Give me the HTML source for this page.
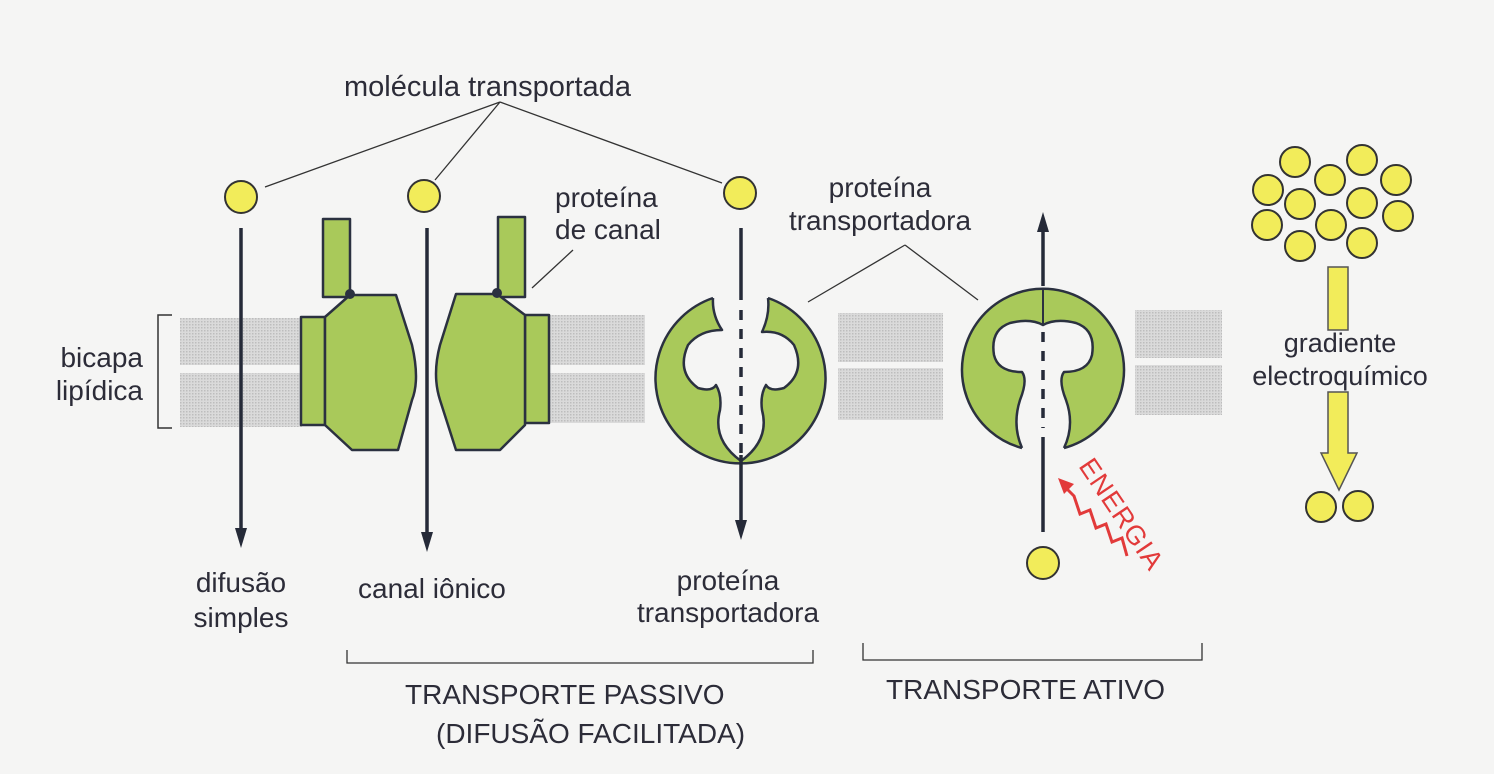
<!DOCTYPE html>
<html><head><meta charset="utf-8"><style>
html,body{margin:0;padding:0;background:#f5f5f4;}
svg{display:block;}
text{font-family:"Liberation Sans","DejaVu Sans",sans-serif;fill:#2c2c38;}
</style></head><body>
<svg width="1494" height="774" viewBox="0 0 1494 774" xmlns="http://www.w3.org/2000/svg">
<defs>
<pattern id="dots" width="3" height="3" patternUnits="userSpaceOnUse"><rect width="3" height="3" fill="#dadada"/><rect width="1.5" height="1.5" fill="#bdbdbd"/></pattern>
</defs>
<rect width="1494" height="774" fill="#f5f5f4"/>
<g fill="url(#dots)">
<rect x="180" y="318" width="122" height="47"/><rect x="180" y="373" width="122" height="54"/>
<rect x="549" y="315" width="96" height="50"/><rect x="549" y="373" width="96" height="50"/>
<rect x="838" y="313" width="105" height="49"/><rect x="838" y="368" width="105" height="52"/>
<rect x="1135" y="310" width="87" height="48"/><rect x="1135" y="365" width="87" height="50"/>
</g>
<path d="M172 315 H158 V428 H172" fill="none" stroke="#333" stroke-width="1.5"/>
<g stroke="#2b3140" stroke-width="2.5" fill="#a9c95a" stroke-linejoin="round">
<rect x="323" y="219" width="27" height="78"/>
<rect x="301" y="317" width="24" height="108"/>
<path d="M325 317 L350 295 L396 295 L412 345 Q420 380 412 400 L398 450 L352 450 L325 425 Z"/>
<rect x="498" y="217" width="27" height="80"/>
<rect x="525" y="315" width="24" height="108"/>
<path d="M525 315 L497 294 L456 294 L440 345 Q432 375 440 400 L456 450 L500 450 L525 425 Z"/>
</g>
<g fill="#2b3140"><circle cx="350" cy="294" r="5"/><circle cx="497" cy="293" r="5"/></g>
<!-- passive transporter -->
<circle cx="741" cy="378" r="85" fill="#a9c95a"/>
<path d="M713 298 Q712 315 722 330 Q700 330 688 345 Q676 372 698 388 Q712 392 716 385 Q722 395 720 410 Q712 440 741 461 Q770 440 762 410 Q760 395 766 385 Q770 392 784 388 Q806 372 794 345 Q782 330 762 332 Q770 315 768 298 L768 285 L713 285 Z" fill="#f5f5f4"/>
<path d="M768 298 A85 85 0 1 1 713 298" fill="none" stroke="#2b3140" stroke-width="2.5"/>
<path d="M713 298 Q712 315 722 330 Q700 330 688 345 Q676 372 698 388 Q712 392 716 385 Q722 395 720 410 Q712 440 741 461 Q770 440 762 410 Q760 395 766 385 Q770 392 784 388 Q806 372 794 345 Q782 330 762 332 Q770 315 768 298" fill="none" stroke="#2b3140" stroke-width="2.5" stroke-linejoin="round"/>
<!-- active transporter -->
<circle cx="1043" cy="370" r="81" fill="#a9c95a"/>
<path d="M1022 448 Q1012 425 1020 400 Q1028 380 1022 372 Q998 372 994 355 Q990 330 1010 323 Q1030 318 1043 325 Q1056 318 1076 323 Q1096 330 1092 355 Q1088 372 1064 372 Q1058 380 1066 400 Q1075 425 1064 448 L1064 460 L1022 460 Z" fill="#f5f5f4"/>
<path d="M1064 448 A81 81 0 1 0 1022 448" fill="none" stroke="#2b3140" stroke-width="2.5"/>
<path d="M1022 448 Q1012 425 1020 400 Q1028 380 1022 372 Q998 372 994 355 Q990 330 1010 323 Q1030 318 1043 325 Q1056 318 1076 323 Q1096 330 1092 355 Q1088 372 1064 372 Q1058 380 1066 400 Q1075 425 1064 448" fill="none" stroke="#2b3140" stroke-width="2.5" stroke-linejoin="round"/>
<path d="M1043 290 V325" stroke="#2b3140" stroke-width="2"/>
<g stroke="#252a38" stroke-width="3.5" fill="none">
<line x1="241" y1="228" x2="241" y2="530"/>
<line x1="427" y1="228" x2="427" y2="535"/>
<line x1="741" y1="228" x2="741" y2="300"/>
<line x1="741" y1="310" x2="741" y2="455" stroke-dasharray="10,9"/>
<line x1="741" y1="455" x2="741" y2="522"/>
<line x1="1043" y1="228" x2="1043" y2="286"/>
<line x1="1043" y1="332" x2="1043" y2="428" stroke-dasharray="10,9"/>
<line x1="1043" y1="437" x2="1043" y2="532"/>
</g>
<g fill="#252a38">
<path d="M235 528 L247 528 L241 548 Z"/>
<path d="M421 532 L433 532 L427 552 Z"/>
<path d="M735 520 L747 520 L741 540 Z"/>
<path d="M1037 232 L1049 232 L1043 212 Z"/>
</g>
<g fill="#f2ec5a" stroke="#333" stroke-width="2">
<circle cx="241" cy="197" r="16"/><circle cx="424" cy="196" r="16"/><circle cx="740" cy="193" r="16"/><circle cx="1043" cy="563" r="16"/>
<circle cx="1295" cy="162" r="15"/><circle cx="1362" cy="160" r="15"/><circle cx="1268" cy="190" r="15"/><circle cx="1330" cy="180" r="15"/><circle cx="1396" cy="180" r="15"/><circle cx="1300" cy="204" r="15"/><circle cx="1362" cy="203" r="15"/><circle cx="1267" cy="225" r="15"/><circle cx="1331" cy="225" r="15"/><circle cx="1398" cy="216" r="15"/><circle cx="1300" cy="246" r="15"/><circle cx="1362" cy="243" r="15"/>
<circle cx="1321" cy="507" r="15"/><circle cx="1358" cy="506" r="15"/>
</g>
<g fill="#f2ec5a" stroke="#555" stroke-width="1.5">
<rect x="1328" y="267" width="20" height="63"/>
<path d="M1328 392 H1348 V453 H1357 L1339 490 L1321 453 H1328 Z"/>
</g>
<g stroke="#333" stroke-width="1.3" fill="none">
<path d="M500 102 L265 187 M500 102 L435 180 M500 102 L722 183"/>
<path d="M532 288 L573 250"/>
<path d="M905 245 L808 302 M905 245 L978 300"/>
<path d="M347 650 V663 H813 V650"/>
<path d="M863 643 V660 H1202 V643"/>
</g>
<path d="M1127 556 L1122 538 L1112 542 L1106 524 L1096 528 L1090 510 L1080 514 L1074 496 L1066 488" fill="none" stroke="#e23a3a" stroke-width="3"/>
<path d="M1058 478 L1074 484 L1064 494 Z" fill="#e23a3a"/>
<text x="0" y="0" font-size="27" transform="translate(1078,466) rotate(56)" style="fill:#e23a3a;letter-spacing:1px">ENERGIA</text>
<g font-size="30">
<text x="344" y="96" font-size="29">molécula transportada</text>
<text x="555" y="207" font-size="28">proteína</text>
<text x="555" y="239" font-size="28">de canal</text>
<text x="880" y="197" text-anchor="middle" font-size="28">proteína</text>
<text x="880" y="230" text-anchor="middle" font-size="28">transportadora</text>
<text x="143" y="367" text-anchor="end" font-size="28">bicapa</text>
<text x="143" y="400" text-anchor="end" font-size="28">lipídica</text>
<text x="1340" y="352" text-anchor="middle" font-size="27">gradiente</text>
<text x="1340" y="385" text-anchor="middle" font-size="27">electroquímico</text>
<text x="241" y="592" text-anchor="middle" font-size="28">difusão</text>
<text x="241" y="627" text-anchor="middle" font-size="28">simples</text>
<text x="358" y="598" font-size="28">canal iônico</text>
<text x="728" y="590" text-anchor="middle" font-size="28">proteína</text>
<text x="728" y="622" text-anchor="middle" font-size="28">transportadora</text>
<text x="405" y="704" font-size="28">TRANSPORTE PASSIVO</text>
<text x="436" y="743" font-size="28">(DIFUSÃO FACILITADA)</text>
<text x="886" y="699" font-size="28">TRANSPORTE ATIVO</text>
</g>
</svg>
</body></html>
